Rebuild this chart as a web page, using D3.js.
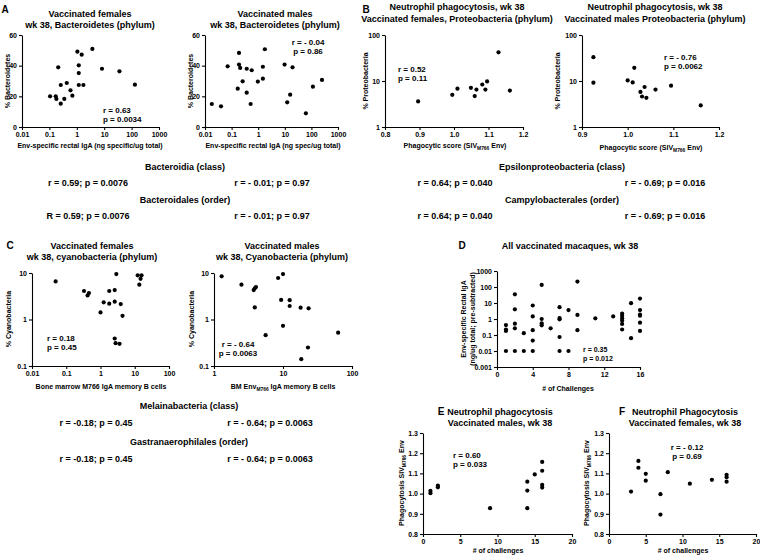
<!DOCTYPE html>
<html><head><meta charset="utf-8">
<script src="https://cdn.jsdelivr.net/npm/d3@7/dist/d3.min.js"></script>
<style>
body{margin:0;background:#fff;}
svg text{font-family:"Liberation Sans",Arial,Helvetica,sans-serif;font-weight:bold;fill:#000;}
</style></head><body>
<svg id="c" width="760" height="560"></svg>
<script>
// ---------- DATA ----------
// A: Bacteroidetes vs Env-specific rectal IgA
const aFemIgA  = [0.106,0.17,0.18,0.21,0.26,0.26,0.35,0.43,0.59,0.69,1.05,1.18,1.18,1.18,1.51,1.74,3.7,8.3,36,132];
const aFemBact = [20.0,20.0,18.3,38.9,15.2,27.4,18.3,28.7,23.9,20.4,49.1,35.2,40.2,27.4,47.2,27.4,50.9,38,36.3,27.6];
const aMalIgA  = [0.018,0.04,0.071,0.17,0.19,0.19,0.21,0.26,0.37,0.37,0.52,0.57,0.97,1.5,1.5,1.78,9.8,12.3,15.9,19.5,62,114,250];
const aMalBact = [15,13.5,39.6,25,48.3,40.7,38.5,29.8,22.4,38,15,37,29.6,39.3,31.5,50.7,40.7,16.1,21.1,38.9,8.9,26.3,30.7];
// B: Proteobacteria vs phagocytic score
const bFemScore = [0.896,0.995,1.01,1.049,1.06,1.065,1.082,1.091,1.096,1.129,1.162];
const bFemProt  = [3.6,5.0,6.8,7.1,4.7,6.5,8.4,6.5,9.8,42,6.2];
const bMalScore = [0.925,0.925,1.0,1.011,1.0145,1.028,1.0315,1.037,1.041,1.061,1.095,1.16];
const bMalProt  = [33,9.2,10.3,9.3,19.3,5.8,4.6,7.4,4.3,6.5,7.9,2.95];
// C: Cyanobacteria vs IgA memory B cells
const cFemB     = [0.049,0.33,0.42,0.46,1.0,1.24,1.8,1.8,2.6,2.6,2.9,2.6,2.76,3.6,3.9,4.4,12.2,13.6,14.8,15.8];
const cFemCyano = [6.6,4.1,3.3,3.7,1.42,2.34,4.1,2.19,4.3,2.42,9.5,0.39,0.31,0.30,2.15,1.2,8.9,5.6,7.5,8.9];
const cMalB     = [1.29,2.5,3.76,3.9,4.06,3.9,5.6,8.5,9.4,10,10,12.5,12.5,18,18.4,23,23.5,63];
const cMalCyano = [8.5,5.6,4.3,4.7,5.0,1.82,0.46,7.8,2.63,9.5,0.73,2.6,1.95,1.8,0.14,0.25,1.74,0.52];
// D: Env-specific rectal IgA vs # of challenges
const dChallenges = [1,1,1,1,2,2,2,2,2,3,3,4,4,4,4,4,5,5,5,5,6,7,7,7,7,7,8,8,9,9,9,11,13,14,14,14,14,14,14,15,15,16,16,16,16,16,16];
const dIgA = [0.42,0.22,0.18,0.01,35,4,0.51,0.26,0.01,0.13,0.01,7,1.45,0.2,0.045,0.01,135,1.0,0.54,0.4,0.26,5.5,1.15,0.95,0.075,0.01,3.6,0.01,218,1.8,0.2,1.1,1.45,2.2,1.6,1.1,0.8,0.49,0.22,9.8,0.063,19,3.6,1.9,1.6,0.59,0.18];
// E, F: phagocytosis vs # of challenges
const eChallenges = [1,1,2,2,9,14,14,14,15,16,16,16,16];
const ePhago = [1.013,1.002,1.039,1.031,0.928,1.059,1.015,0.928,1.095,1.157,1.113,1.043,1.03];
const fChallenges = [3,4,4,5,5,7,7,8,11,14,16,16,16];
const fPhago = [1.01,1.162,1.128,1.098,1.064,0.997,0.896,1.106,1.049,1.068,1.093,1.081,1.059];
// tick labels
const ticksLogA = [0.01,0.1,1,10,100,1000];
const ticksPct = [0,20,40,60];
const ticksScoreF = [0.8,0.9,1.0,1.1,1.2];
const ticksScoreM = [0.9,1.0,1.1,1.2];
const ticksLog3 = [1,10,100];
const ticksLogC = [0.01,0.1,1,10,100];
const ticksCy = [0.1,1,10];
const ticksD_y = [0.001,0.01,0.1,1,10,100,1000];
const ticksD_x = [0,4,8,12,16];
const ticksChal = [0,5,10,15,20];
const ticksPhago = [0.8,0.9,1.0,1.1,1.2,1.3];

// ---------- DRAW ----------
const svg = d3.select("#c");
const fmtG = d => String(+d.toPrecision(6));
const fmt1 = d3.format(".1f");

function txt(x,y,s,o={}){
  const t = svg.append("text").attr("x",x).attr("y",y).attr("font-size",o.size||9)
    .attr("text-anchor",o.anchor||"middle");
  (Array.isArray(s)?s:[[s,false]]).forEach((p,i,arr)=>{
    const ts = t.append("tspan").text(p[0]);
    if(p[1]){ ts.attr("font-size",(o.size||9)*0.7).attr("dy",2); }
    else if(i>0 && arr[i-1][1]){ ts.attr("dy",-2); }
  });
  if(o.rotate) t.attr("transform",`rotate(-90,${x},${y})`);
  return t;
}

function panel(p){
  const xs = (p.xlog?d3.scaleLog():d3.scaleLinear()).domain(p.xdom).range([p.l,p.r]);
  const ys = (p.ylog?d3.scaleLog():d3.scaleLinear()).domain(p.ydom).range([p.b,p.t]);
  const g = svg.append("g");
  const gx = g.append("g").attr("transform",`translate(0,${p.b})`)
    .call(d3.axisBottom(xs).tickValues(p.xt).tickFormat(p.xf||fmtG).tickSize(3).tickSizeOuter(0).tickPadding(2));
  const gy = g.append("g").attr("transform",`translate(${p.l},0)`)
    .call(d3.axisLeft(ys).tickValues(p.yt).tickFormat(p.yf||fmtG).tickSize(3).tickSizeOuter(0).tickPadding(2));
  [gx,gy].forEach(a=>{
    a.attr("font-family",null).attr("font-size",null);
    a.selectAll("text").attr("font-size",7);
    a.selectAll("path,line").attr("stroke","#000").attr("stroke-width",1.1);
  });
  g.append("g").selectAll("circle").data(p.xv.map((v,i)=>[v,p.yv[i]])).join("circle")
    .attr("cx",d=>xs(d[0])).attr("cy",d=>ys(d[1])).attr("r",2.1).attr("fill","#000");
}

// Panel A
panel({l:22,r:159,t:35,b:127,xlog:true,xdom:[0.01,1000],xt:ticksLogA,ydom:[0,60],yt:ticksPct,xv:aFemIgA,yv:aFemBact});
panel({l:205,r:338,t:35,b:127,xlog:true,xdom:[0.01,1000],xt:ticksLogA,ydom:[0,60],yt:ticksPct,xv:aMalIgA,yv:aMalBact});
// Panel B
panel({l:385,r:523,t:35,b:127,xdom:[0.8,1.2],xt:ticksScoreF,xf:fmt1,ylog:true,ydom:[1,100],yt:ticksLog3,xv:bFemScore,yv:bFemProt});
panel({l:582,r:719,t:35,b:127,xdom:[0.9,1.2],xt:ticksScoreM,xf:fmt1,ylog:true,ydom:[1,100],yt:ticksLog3,xv:bMalScore,yv:bMalProt});
// Panel C
panel({l:32,r:169,t:273,b:366,xlog:true,xdom:[0.01,100],xt:ticksLogC,ylog:true,ydom:[0.1,10],yt:ticksCy,xv:cFemB,yv:cFemCyano});
panel({l:214,r:352,t:273,b:366,xlog:true,xdom:[1,100],xt:ticksLog3,ylog:true,ydom:[0.1,10],yt:ticksCy,xv:cMalB,yv:cMalCyano});
// Panel D
panel({l:497,r:640,t:271,b:367,xdom:[0,16],xt:ticksD_x,ylog:true,ydom:[0.001,1000],yt:ticksD_y,xv:dChallenges,yv:dIgA});
// Panels E, F
panel({l:423,r:572,t:433,b:534,xdom:[0,20],xt:ticksChal,ydom:[0.8,1.3],yt:ticksPhago,yf:fmt1,xv:eChallenges,yv:ePhago});
panel({l:609,r:756,t:433,b:534,xdom:[0,20],xt:ticksChal,ydom:[0.8,1.3],yt:ticksPhago,yf:fmt1,xv:fChallenges,yv:fPhago});

// Panel letters
[["A",5,13],["B",366,13],["C",10,249],["D",462,249],["E",441,415],["F",622,415]]
  .forEach(d=>txt(d[1],d[2],d[0],{size:10}));

// Titles
const T = 9;
txt(90,17,"Vaccinated females",{size:T}); txt(90,28,"wk 38, Bacteroidetes (phylum)",{size:T});
txt(275,17,"Vaccinated males",{size:T}); txt(275,28,"wk 38, Bacteroidetes (phylum)",{size:T});
txt(457,10,"Neutrophil phagocytosis, wk 38",{size:T}); txt(457,22,"Vaccinated females, Proteobacteria (phylum)",{size:T});
txt(655,10,"Neutrophil phagocytosis, wk 38",{size:T}); txt(655,22,"Vaccinated males Proteobacteria (phylum)",{size:T});
txt(92,249,"Vaccinated females",{size:T}); txt(92,260,"wk 38, cyanobacteria (phylum)",{size:T});
txt(282,249,"Vaccinated males",{size:T}); txt(282,260,"wk 38, Cyanobacteria (phylum)",{size:T});
txt(570,249,"All vaccinated macaques, wk 38",{size:T});
txt(500,415,"Neutrophil phagocytosis",{size:T}); txt(500,426,"Vaccinated males, wk 38",{size:T});
txt(685,415,"Neutrophil Phagocytosis",{size:T}); txt(685,426,"Vaccinated females, wk 38",{size:T});

// Axis titles
const A = 7;
txt(90,148,"Env-specific rectal IgA (ng specific/ug total)",{size:A});
txt(273,148,"Env-specific rectal IgA (ng spec/ug total)",{size:A});
txt(455,148,[["Phagocytic score (SIV",false],["M766",true],[" Env)",false]],{size:A});
txt(651,150,[["Phagocytic score (SIV",false],["M766",true],[" Env)",false]],{size:A});
txt(101,389,"Bone marrow M766 IgA memory B cells",{size:A});
txt(283,389,[["BM Env",false],["M766",true],[" IgA memory B cells",false]],{size:A});
txt(568,391,"# of Challenges",{size:A});
txt(498,553,"# of challenges",{size:A});
txt(683,553,"# of challenges",{size:A});
txt(10,81,"% Bacteroidetes",{size:A,rotate:true});
txt(193,81,"% Bacteroidetes",{size:A,rotate:true});
txt(368,81,"% Proteobacteria",{size:A,rotate:true});
txt(560,81,"% Proteobacteria",{size:A,rotate:true});
txt(11,319,"% Cyanobacteria",{size:A,rotate:true});
txt(194,319,"% Cyanobacteria",{size:A,rotate:true});
txt(466,319,"Env-specific Rectal  IgA",{size:A,rotate:true});
txt(475,319,"(ng/ug total; pre-subtracted)",{size:A,rotate:true});
txt(404,483,[["Phagocytosis SIV",false],["M766",true],[" Env",false]],{size:A,rotate:true});
txt(589,483,[["Phagocytosis SIV",false],["M766",true],[" Env",false]],{size:A,rotate:true});

// In-plot statistics
const S = 8;
txt(103,113,"r = 0.63",{size:S,anchor:"start"}); txt(103,122,"p = 0.0034",{size:S,anchor:"start"});
txt(308,45,"r = - 0.04",{size:S}); txt(308,54,"p = 0.86",{size:S});
txt(398,72,"r = 0.52",{size:S,anchor:"start"}); txt(398,81,"p = 0.11",{size:S,anchor:"start"});
txt(664,60,"r = - 0.76",{size:S,anchor:"start"}); txt(664,69,"p = 0.0062",{size:S,anchor:"start"});
txt(47,341,"r = 0.18",{size:S,anchor:"start"}); txt(47,350,"p = 0.45",{size:S,anchor:"start"});
txt(238,347,"r = - 0.64",{size:S}); txt(238,356,"p = 0.0063",{size:S});
txt(583,352,"r = 0.35",{size:7,anchor:"start"}); txt(583,361,"p = 0.012",{size:7,anchor:"start"});
txt(453,458,"r = 0.60",{size:S,anchor:"start"}); txt(453,467,"p = 0.033",{size:S,anchor:"start"});
txt(687,450,"r = - 0.12",{size:S}); txt(687,459,"p = 0.69",{size:S});

// Lower-level taxa statistics
const L = 9;
txt(185,170,"Bacteroidia (class)",{size:L});
txt(88,186,"r = 0.59; p = 0.0076",{size:L}); txt(272,186,"r = - 0.01; p = 0.97",{size:L});
txt(185,203,"Bacteroidales (order)",{size:L});
txt(88,219,"R = 0.59; p = 0.0076",{size:L}); txt(272,219,"r = - 0.01; p = 0.97",{size:L});
txt(562,170,"Epsilonproteobacteria (class)",{size:L});
txt(455,186,"r = 0.64; p = 0.040",{size:L}); txt(665,186,"r = - 0.69; p = 0.016",{size:L});
txt(562,203,"Campylobacterales (order)",{size:L});
txt(455,219,"r = 0.64; p = 0.040",{size:L}); txt(665,219,"r = - 0.69; p = 0.016",{size:L});
txt(189,409,"Melainabacteria (class)",{size:L});
txt(96,426,"r = -0.18; p = 0.45",{size:L}); txt(270,426,"r = - 0.64; p = 0.0063",{size:L});
txt(189,445,"Gastranaerophilales (order)",{size:L});
txt(96,462,"r = -0.18; p = 0.45",{size:L}); txt(270,462,"r = - 0.64; p = 0.0063",{size:L});
</script>
</body></html>
